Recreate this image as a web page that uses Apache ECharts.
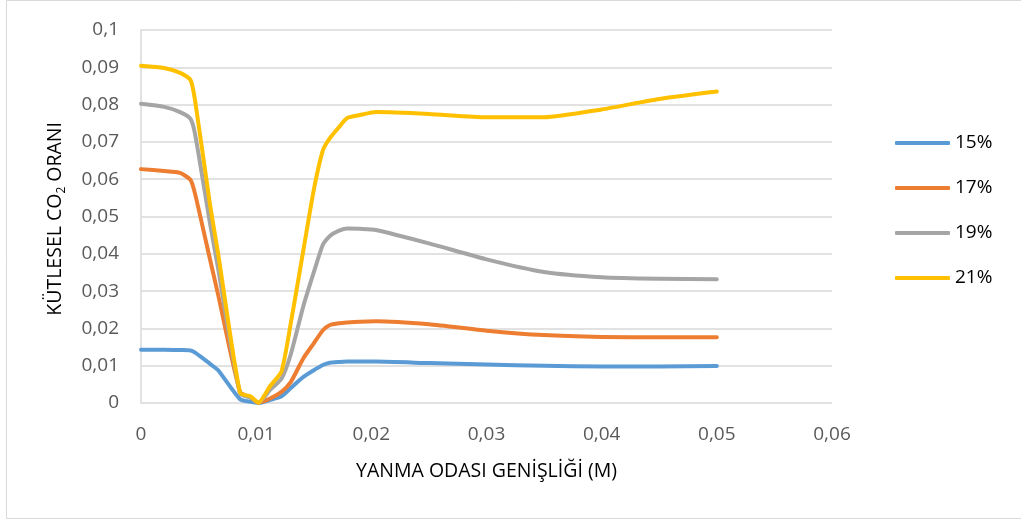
<!DOCTYPE html>
<html>
<head>
<meta charset="utf-8">
<script src="https://cdn.jsdelivr.net/npm/echarts@6/dist/echarts.min.js"></script>
<style>html,body{margin:0;padding:0;background:#fff}#c{width:1021px;height:519px}</style>
</head>
<body>
<div id="c"></div>
<script>
const seriesNames = ['15%', '17%', '19%', '21%'];
const xs = [0, 0.002, 0.0034, 0.0043, 0.0047, 0.006, 0.0067, 0.0086, 0.0095, 0.0102, 0.0112, 0.0122, 0.013, 0.0141, 0.015, 0.0158, 0.0164, 0.0172, 0.0179, 0.019, 0.0204, 0.025, 0.03, 0.035, 0.04, 0.045, 0.05];
const y15 = [0.0143, 0.0143, 0.0142, 0.0141, 0.0135, 0.0105, 0.0088, 0.0010, 0.0003, 0.0000, 0.0008, 0.0018, 0.0040, 0.0070, 0.0088, 0.0102, 0.0108, 0.0110, 0.0111, 0.0111, 0.0111, 0.0107, 0.0103, 0.0100, 0.0098, 0.0098, 0.0099];
const y17 = [0.0627, 0.0622, 0.0617, 0.0598, 0.0560, 0.0384, 0.0290, 0.0030, 0.0015, 0.0001, 0.0012, 0.0030, 0.0056, 0.0120, 0.0160, 0.0195, 0.0209, 0.0214, 0.0216, 0.0218, 0.0219, 0.0211, 0.0194, 0.0182, 0.0177, 0.0176, 0.0176];
const y19 = [0.0802, 0.0794, 0.0780, 0.0762, 0.0720, 0.0480, 0.0360, 0.0025, 0.0015, 0.0001, 0.0035, 0.0065, 0.0130, 0.0260, 0.0350, 0.0425, 0.0448, 0.0462, 0.0468, 0.0467, 0.0464, 0.0428, 0.0385, 0.0351, 0.0337, 0.0333, 0.0332];
const y21 = [0.0904, 0.0898, 0.0885, 0.0866, 0.0810, 0.0530, 0.0400, 0.0027, 0.0018, 0.0001, 0.0045, 0.0085, 0.0213, 0.0410, 0.0571, 0.0678, 0.0710, 0.0740, 0.0764, 0.0772, 0.0780, 0.0775, 0.0766, 0.0766, 0.0787, 0.0815, 0.0835];
const colors = ['#5B9BD5', '#ED7D31', '#A5A5A5', '#FFC000'];
const allY = [y15, y17, y19, y21];

const fmt = v => parseFloat(Number(v).toFixed(4)).toString().replace('.', ',');
const FONT = 'Open Sans';

const chart = echarts.init(document.getElementById('c'), null, {renderer: 'canvas'});
chart.setOption({
  animation: false,
  backgroundColor: '#fff',
  textStyle: {fontFamily: FONT},
  graphic: [{
    type: 'rect', silent: true, z: -1,
    shape: {x: 6.5, y: 0.5, width: 1030, height: 518},
    style: {fill: 'none', stroke: '#d9d9d9', lineWidth: 1}
  }, {
    type: 'text', left: 45, top: 122, rotation: Math.PI / 2,
    style: {
      text: '{a|KÜTLESEL CO}{s|2}{a| ORANI}',
      rich: {
        a: {fontFamily: FONT, fontSize: 19.5, fill: '#000'},
        s: {fontFamily: FONT, fontSize: 12, fill: '#000', padding: [14, 0, 0, 0]}
      }
    }
  }],
  grid: {left: 141, right: 189, top: 30, bottom: 116},
  legend: {
    orient: 'vertical', left: 890, top: 127, itemGap: 23,
    itemWidth: 55, itemHeight: 4,
    icon: 'roundRect',
    textStyle: {fontFamily: FONT, fontSize: 19, color: '#000', lineHeight: 22},
    data: seriesNames
  },
  xAxis: {
    type: 'value', min: 0, max: 0.06, interval: 0.01,
    name: 'YANMA ODASI GENİŞLİĞİ (M)', nameLocation: 'middle', nameGap: 58,
    nameTextStyle: {fontFamily: FONT, fontSize: 19.5, color: '#000'},
    axisLine: {show: false}, axisTick: {show: false},
    splitLine: {show: false},
    axisLabel: {formatter: fmt, color: '#595959', fontSize: 19, fontFamily: FONT, margin: 22}
  },
  yAxis: {
    type: 'value', min: 0, max: 0.1, interval: 0.01,
    axisLine: {show: true, lineStyle: {color: '#d9d9d9', width: 1.5}}, axisTick: {show: false},
    splitLine: {show: true, lineStyle: {color: '#d9d9d9', width: 1.5}},
    axisLabel: {formatter: fmt, color: '#595959', fontSize: 19, fontFamily: FONT, margin: 22}
  },
  series: seriesNames.map((n, i) => ({
    name: n, type: 'line', smooth: 0.2, showSymbol: false, symbol: 'none',
    lineStyle: {width: 4, color: colors[i], cap: 'round', join: 'round'},
    itemStyle: {color: colors[i]},
    data: xs.map((x, k) => [x, allY[i][k]])
  }))
});
</script>
</body>
</html>
